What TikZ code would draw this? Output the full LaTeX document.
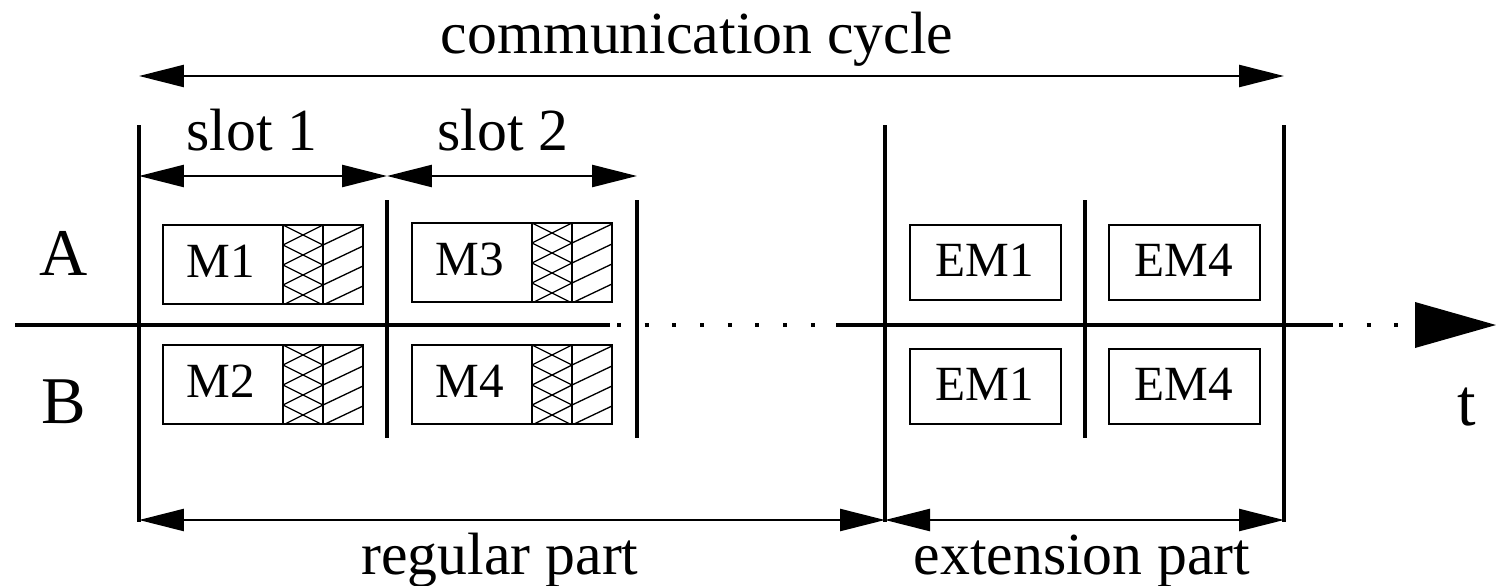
\documentclass[tikz,border=0pt]{standalone}
\usepackage{fontspec}
\setmainfont{Liberation Serif}
\usetikzlibrary{arrows.meta,positioning,calc}

\tikzstyle{axis}=[line width=2.3pt]
\tikzstyle{dots}=[dash pattern=on 0.08cm off 0.474cm]
\tikzstyle{bound}=[line width=2.2pt]
\tikzstyle{dim}=[line width=1.4pt,
               {Triangle[length=0.9cm,width=0.44cm]}-{Triangle[length=0.9cm,width=0.44cm]}]
\tikzstyle{msg}=[line width=1.1pt]
\tikzstyle{hatch}=[line width=0.75pt]
\tikzstyle{lbl}=[font=\fontsize{34}{40}\selectfont,anchor=base,inner sep=0pt]
\tikzstyle{row}=[font=\fontsize{38}{44}\selectfont,anchor=base,inner sep=0pt]
\tikzstyle{mtext}=[font=\fontsize{28}{32}\selectfont,anchor=base,inner sep=0pt]

\begin{document}
\begin{tikzpicture}[x=0.02cm,y=-0.02cm]
\useasboundingbox (0,0) rectangle (1496,585);

% % % % % % % % % % % % % % %

% time axis
\coordinate (t0) at (15,325);
\coordinate (t1) at (610,325);
\coordinate (t2) at (617,325);
\coordinate (t3) at (818,325);
\coordinate (t4) at (836,325);
\coordinate (t5) at (1333,325);
\coordinate (t6) at (1339,325);
\coordinate (t7) at (1402,325);
\coordinate (tip) at (1496,325);
\draw[axis] (t0)--(t1);
\draw[axis,dots] (t2)--(t3);
\draw[axis] (t4)--(t5);
\draw[axis,dots] (t6)--(t7);
\fill (1415,302)--(tip)--(1415,348)--cycle;

% slot bounds
\foreach \n/\x/\a/\b in {v0/139/125/522, v1/387/200/438, v2/637/200/438,
                         v3/885/125/522, v4/1085/200/438, v5/1284/125/522} {
\coordinate (\n t) at (\x,\a);
\coordinate (\n b) at (\x,\b);
\draw[bound] (\n t)--(\n b);
}

% dimension arrows
\coordinate (c0) at (139,76);
\coordinate (c1) at (1284,76);
\coordinate (s0) at (139,176);
\coordinate (s1) at (387,176);
\coordinate (s2) at (637,176);
\coordinate (p0) at (139,520);
\coordinate (p1) at (885,520);
\coordinate (p2) at (1284,520);
\draw[dim] (c0)--(c1);
\draw[dim] (s0)--(s1);
\draw[dim] (s1)--(s2);
\draw[dim] (p0)--(p1);
\draw[dim] (p1)--(p2);

\node[lbl] (cycle) at (697,53) {communication cycle};
\node[lbl] (slot1) at (252,150) {slot 1};
\node[lbl] (slot2) at (503,150) {slot 2};
\node[lbl] (regular) at (500,574) {regular part};
\node[lbl] (extension) at (1082,574) {extension part};
\node[row] (chA) at (64,275) {A};
\node[row] (chB) at (64,423) {B};
\node[row] (time) at (1467,425) {t};

% regular messages
\foreach \x/\y/\name in {163/225/M1, 412/223/M3, 163/345/M2, 412/345/M4} {
\begin{scope}
\clip (\x+120,\y) rectangle ++(40,79);
\foreach \k in {-1,...,5} {
\draw[hatch] (\x+120,\y+20*\k) -- ++(40,20);
\draw[hatch] (\x+120,\y+20*\k) -- ++(40,-20);
}
\end{scope}
\begin{scope}
\clip (\x+160,\y) rectangle ++(40,79);
\foreach \k in {0,...,6} {
\draw[hatch] (\x+160,\y+20*\k) -- ++(40,-19);
}
\end{scope}
\draw[msg] (\x,\y) rectangle ++(200,79);
\draw[msg] (\x+120,\y) -- ++(0,79);
\draw[msg] (\x+160,\y) -- ++(0,79);
\node[mtext] (msg-\name) at (\x+58,\y+52) {\name};
}

% extension messages
\foreach \x/\y/\name/\txt in {910/225/aem1/EM1, 1109/225/aem4/EM4,
                              910/349/bem1/EM1, 1109/349/bem4/EM4} {
\draw[msg] (\x,\y) rectangle ++(151,75);
\node[mtext] (\name) at (\x+75,\y+51) {\txt};
}

\end{tikzpicture}
\end{document}
